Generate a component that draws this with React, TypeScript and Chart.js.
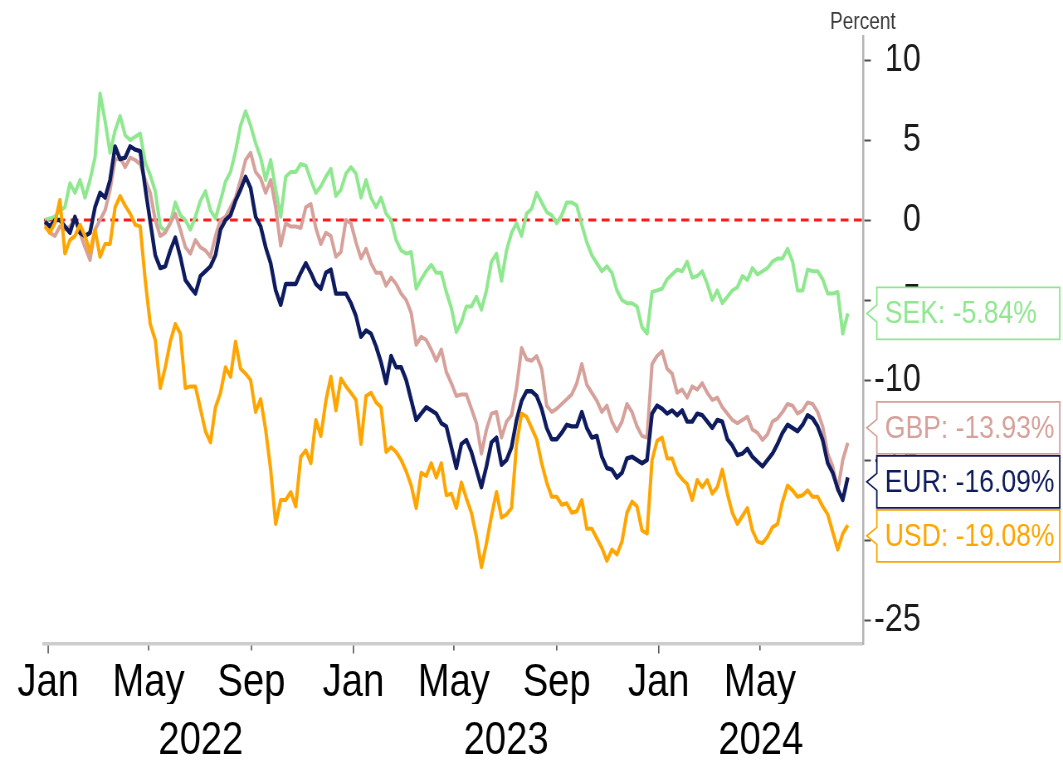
import React, { useEffect, useRef } from 'react';
import { Chart, registerables } from 'chart.js';

Chart.register(...registerables);

// ---- data (percent change, sampled every SAMPLE_STEP_DAYS from SAMPLE_START) ----
const SAMPLE_START = '2021-12-28';
const SAMPLE_STEP_DAYS = 6;
const AXIS_START = '2021-12-27';
const AXIS_END = '2024-09-01';

const TICK_DATES = ['2022-01-01', '2022-05-01', '2022-09-01', '2023-01-01', '2023-05-01', '2023-09-01', '2024-01-01', '2024-05-01'];
const TICK_LABELS = ['Jan', 'May', 'Sep', 'Jan', 'May', 'Sep', 'Jan', 'May'];
const YEARS = [2022, 2023, 2024];
const Y_TICKS = [-25, -20, -15, -10, -5, 0, 5, 10];
const Y_MIN = -26.5;
const Y_MAX = 11.5;
const Y_TITLE = 'Percent';

const SERIES_NAMES = ['SEK', 'GBP', 'EUR', 'USD'];
const SERIES_COLORS = ['#8fe88f', '#d6a19b', '#0e1b5e', '#ffa500'];

const SEK = [
  0.0, 0.1, 0.2, 0.6, 0.8, 2.3, 1.7, 2.5, 1.4, 2.5,
  3.9, 7.9, 6.2, 4.2, 5.6, 6.5, 5.3, 5.0, 5.2, 5.4,
  3.6, 2.8, 1.8, -0.4, -0.7, -0.2, 1.1, 0.3, 0.0, -0.6,
  0.2, 1.2, 1.8, 0.6, 0.1, 1.2, 2.4, 3.0, 4.3, 5.9,
  6.8, 5.9, 4.8, 3.9, 2.5, 3.75, 1.9, 0.2, 2.7, 3.0,
  3.0, 3.5, 3.4, 2.5, 1.7, 2.1, 2.7, 3.2, 1.5, 1.9,
  2.9, 3.3, 2.9, 1.4, 2.5, 1.4, 0.8, 1.4, 0.4, 0.0,
  -1.25, -1.9, -2.1, -2.0, -4.3, -3.7, -3.2, -2.8, -3.3, -3.3,
  -4.5, -5.5, -7.0, -6.4, -5.4, -5.4, -4.8, -5.6, -4.4, -2.6,
  -2.1, -3.8, -1.9, -0.8, -0.2, -1.0, 0.4, 0.7, 1.7, 1.1,
  0.5, 0.3, -0.2, 0.3, 1.1, 1.1, 0.9, -0.3, -1.4, -2.2,
  -2.7, -3.2, -2.9, -3.3, -4.4, -5.0, -5.2, -5.2, -5.4, -6.7,
  -7.1, -4.5, -4.4, -4.3, -3.7, -3.4, -3.1, -3.2, -2.6, -3.6,
  -3.5, -3.2, -4.0, -5.0, -4.4, -5.2, -4.8, -4.4, -4.2, -3.5,
  -3.75, -3.0, -3.4, -3.2, -3.0, -2.6, -2.4, -2.4, -1.8, -2.6,
  -4.4, -4.4, -3.1, -3.2, -3.2, -3.7, -4.6, -4.6, -4.5, -7.1,
  -5.84,
];

const GBP = [
  -0.2, -0.8, -1.0, -0.4, -0.6, -0.4, 0.0, -0.8, -1.7, -2.5,
  -0.6, 0.0, 0.6, 1.9, 3.75, 3.9, 3.3, 3.9, 3.75, 3.5,
  2.5, 1.7, 0.0, -1.0, -0.8, -0.2, 0.4, -0.6, -1.7, -2.1,
  -1.25, -1.7, -1.9, -2.3, -1.0, 0.0, 0.2, 0.8, 1.4, 2.5,
  3.75, 4.2, 3.0, 2.6, 1.7, 2.5, 0.8, -1.6, -0.2, -0.4,
  -0.4, -0.5, 0.8, 1.0, -0.5, -1.5, -0.8, -1.0, -2.3, -2.0,
  0.0, -0.2, -1.4, -2.4, -1.8, -2.7, -3.3, -3.3, -4.1, -3.6,
  -4.0, -4.6, -5.0, -5.8, -7.8, -7.3, -7.5, -8.1, -8.8, -8.1,
  -9.5, -10.2, -11.0, -10.9, -10.9, -11.8, -12.7, -14.6, -13.1, -12.1,
  -12.0, -13.6, -12.6, -12.2, -10.5, -8.0, -8.7, -8.8, -8.5, -9.3,
  -11.6, -12.0, -11.8, -11.5, -11.2, -10.9, -10.2, -9.0, -10.3, -10.8,
  -11.3, -12.0, -11.6, -12.6, -13.2, -12.6, -11.5, -12.0, -12.9, -13.5,
  -13.6, -9.0, -8.5, -8.2, -9.3, -9.6, -10.8, -10.6, -11.1, -10.4,
  -10.6, -10.2, -10.8, -11.25, -11.1, -11.7, -12.1, -12.5, -12.7, -12.5,
  -12.3, -13.1, -13.3, -13.75, -13.4, -12.6, -12.4, -12.0, -11.5, -11.6,
  -12.1, -11.9, -11.4, -11.5, -12.0, -12.9, -14.6, -15.4, -16.9, -15.0,
  -13.93,
];

const EUR = [
  -0.1, -0.4, 0.0, 0.0, -0.4, -0.8, 0.2, -0.8, -1.0, -0.8,
  0.8, 1.7, 1.4, 2.5, 4.6, 3.8, 3.9, 4.6, 4.4, 4.3,
  2.0, -0.1, -2.2, -3.0, -2.9, -1.9, -1.1, -2.3, -3.75, -4.2,
  -4.6, -3.5, -3.2, -2.9, -2.2, -0.6, 0.0, 0.3, 1.2, 1.9,
  2.7, 2.0, 0.2, -0.4, -1.7, -2.7, -4.4, -5.3, -4.0, -4.0,
  -4.0, -3.3, -2.7, -3.3, -4.0, -4.3, -3.3, -3.1, -4.6, -4.6,
  -4.6, -5.2, -6.0, -7.3, -6.9, -7.1, -7.9, -8.9, -10.2, -8.5,
  -9.2, -9.2, -10.0, -11.25, -12.5, -12.1, -11.7, -11.9, -12.1, -12.7,
  -12.9, -14.2, -15.5, -14.0, -13.75, -14.5, -15.6, -16.7, -15.4, -13.9,
  -13.6, -15.3, -15.0, -14.2, -12.5, -11.3, -10.7, -10.7, -11.0, -11.8,
  -13.0, -13.7, -13.7, -13.3, -12.8, -12.9, -12.9, -12.0, -13.0, -13.6,
  -13.5, -14.8, -15.5, -15.6, -16.1, -15.8, -14.9, -14.8, -15.0, -15.2,
  -15.0, -12.1, -11.6, -11.8, -12.1, -11.9, -12.2, -11.9, -12.6, -12.6,
  -12.1, -12.2, -12.6, -13.0, -12.5, -12.6, -13.7, -14.1, -14.7, -14.6,
  -14.3, -14.8, -15.1, -15.4, -15.0, -14.6, -14.0, -13.3, -12.8, -13.0,
  -13.2, -12.8, -12.2, -12.4, -12.9, -13.75, -15.2, -15.8, -16.8, -17.5,
  -16.09,
];

const USD = [
  -0.4, -0.8, -0.2, 1.25, -2.1, -1.25, -1.0, -0.3, -1.0, -2.0,
  -0.6, -2.3, -1.5, -1.5, 0.8, 1.5, 0.9, 0.4, -0.3, -0.4,
  -3.75, -6.5, -7.5, -10.5, -9.2, -7.6, -6.5, -7.1, -10.5, -10.4,
  -10.4, -11.8, -13.2, -13.9, -11.7, -10.8, -9.2, -9.8, -7.6, -9.3,
  -9.6, -10.0, -12.0, -11.2, -13.1, -15.6, -19.0, -17.5, -17.5, -17.0,
  -17.9, -14.8, -14.4, -15.2, -12.5, -13.5, -11.3, -9.8, -11.9, -9.9,
  -10.4, -10.8, -11.25, -14.0, -11.0, -10.8, -11.4, -11.7, -14.5, -14.2,
  -14.5, -15.0, -15.7, -16.6, -18.0, -15.8, -16.0, -15.2, -16.1, -15.2,
  -17.2, -17.1, -18.0, -16.4, -17.4, -18.3, -19.8, -21.7, -20.2, -18.5,
  -17.0, -18.6, -18.4, -18.0, -14.0, -12.1, -12.3, -13.0, -13.7, -15.2,
  -16.4, -17.3, -17.3, -17.8, -17.7, -18.3, -18.2, -17.5, -19.3, -19.3,
  -19.9, -20.5, -21.3, -20.6, -20.9, -20.1, -18.3, -17.6, -17.9, -19.4,
  -19.6, -15.0, -13.8, -13.6, -14.9, -14.9, -15.8, -16.2, -16.5, -17.5,
  -16.25, -16.7, -16.25, -17.1, -16.7, -15.6, -17.1, -18.3, -19.0, -18.5,
  -18.0, -19.4, -20.1, -20.2, -19.8, -19.2, -19.0, -17.6, -16.6, -16.9,
  -17.3, -17.2, -16.9, -17.3, -17.3, -17.9, -18.4, -19.5, -20.6, -19.6,
  -19.08,
];

const SERIES_VALUES = [SEK, GBP, EUR, USD];

// ---- helpers ----
const EPOCH = Date.UTC(2022, 0, 1);
function dayOf(iso: string): number {
  const [y, m, d] = iso.split('-').map(Number);
  return (Date.UTC(y, m - 1, d) - EPOCH) / 86400000;
}

const X_MIN = dayOf(AXIS_START);
const X_MAX = dayOf(AXIS_END);
const TICK_DAYS = TICK_DATES.map(dayOf);
const YEAR_CENTERS = YEARS.map((y) => {
  const a = Math.max(dayOf(`${y}-01-01`), X_MIN);
  const b = Math.min(dayOf(`${y + 1}-01-01`), X_MAX);
  return (a + b) / 2;
});

// The reference picture is horizontally compressed; draw on a wider canvas
// and display it at the page width.
const VIEW_W = 1063;
const VIEW_H = 761;
const SQ = 0.83;
const CANVAS_W = Math.round(VIEW_W / SQ);
const hx = (screenPx: number) => screenPx / SQ;

const FONT = '"Liberation Sans", Arial, Helvetica, sans-serif';

const decorPlugin = {
  id: 'decor',
  beforeDatasetsDraw(chart: any) {
    const { ctx, chartArea, scales } = chart;
    const y0 = scales.y.getPixelForValue(0);
    ctx.save();
    ctx.strokeStyle = '#ff1a1a';
    ctx.lineWidth = 2.8;
    ctx.setLineDash([9.5, 6.5]);
    ctx.beginPath();
    ctx.moveTo(chartArea.left, y0);
    ctx.lineTo(chartArea.right, y0);
    ctx.stroke();
    ctx.restore();
  },
  afterDraw(chart: any) {
    const { ctx, chartArea, scales } = chart;
    const xs = scales.x;
    const ys = scales.y;
    ctx.save();
    // x tick marks (Jan longer)
    ctx.strokeStyle = '#555';
    ctx.lineWidth = 1.6;
    TICK_DAYS.forEach((d, i) => {
      const x = xs.getPixelForValue(d);
      const len = TICK_LABELS[i] === 'Jan' ? 8 : 5;
      ctx.beginPath();
      ctx.moveTo(x, chartArea.bottom + 1.5);
      ctx.lineTo(x, chartArea.bottom + 1.5 + len);
      ctx.stroke();
    });

    // axis title
    ctx.fillStyle = '#3a3a3a';
    ctx.font = `23px ${FONT}`;
    ctx.textAlign = 'center';
    ctx.textBaseline = 'middle';
    ctx.fillText(Y_TITLE, chartArea.right, 23);

    // end-value callout boxes
    const SP = 54;
    const BOX_H = 52;
    const NOTCH = 8.5;
    const items = SERIES_NAMES.map((name, k) => {
      const vals = SERIES_VALUES[k];
      const last = vals[vals.length - 1];
      return { k, name, ideal: ys.getPixelForValue(last), y: 0, label: `${name}: ${last.toFixed(2)}%` };
    }).sort((a, b) => a.ideal - b.ideal);
    let groups = items.map((it) => ({ items: [it] }));
    const center = (g: any) => g.items.reduce((s: number, it: any) => s + it.ideal, 0) / g.items.length;
    let merged = true;
    while (merged) {
      merged = false;
      for (let g = 0; g < groups.length - 1; g++) {
        const a = groups[g];
        const b = groups[g + 1];
        const aBottom = center(a) + ((a.items.length - 1) * SP) / 2;
        const bTop = center(b) - ((b.items.length - 1) * SP) / 2;
        if (bTop - aBottom < SP) {
          groups.splice(g, 2, { items: [...a.items, ...b.items] });
          merged = true;
          break;
        }
      }
    }
    groups.forEach((g) => {
      const c = center(g);
      g.items.forEach((it, j) => {
        it.y = c + (j - (g.items.length - 1) / 2) * SP;
      });
    });

    const tipX = hx(867);
    const bl = hx(877);
    const br = hx(1060);
    const textX = hx(885);
    items.forEach((it) => {
      const color = SERIES_COLORS[it.k];
      const top = it.y - BOX_H / 2;
      const bottom = it.y + BOX_H / 2;
      ctx.beginPath();
      ctx.moveTo(bl, top);
      ctx.lineTo(br, top);
      ctx.lineTo(br, bottom);
      ctx.lineTo(bl, bottom);
      ctx.lineTo(bl, it.y + NOTCH);
      ctx.lineTo(tipX, it.y);
      ctx.lineTo(bl, it.y - NOTCH);
      ctx.closePath();
      ctx.fillStyle = '#ffffff';
      ctx.fill();
      ctx.strokeStyle = color;
      ctx.lineWidth = 1.8;
      ctx.stroke();
      ctx.fillStyle = color;
      ctx.font = `32px ${FONT}`;
      ctx.textAlign = 'left';
      ctx.textBaseline = 'middle';
      ctx.fillText(it.label, textX, it.y + 1);
    });
    ctx.restore();
  },
};

export default function App() {
  const canvasRef = useRef<HTMLCanvasElement | null>(null);

  useEffect(() => {
    const canvas = canvasRef.current;
    if (!canvas) return;
    const start = dayOf(SAMPLE_START);
    const xOf = (i: number) => start + i * SAMPLE_STEP_DAYS;
    const drawOrder = [3, 2, 1, 0];

    const datasets = SERIES_NAMES.map((name, k) => ({
      label: name,
      data: SERIES_VALUES[k].map((v, i) => ({ x: xOf(i), y: v })),
      borderColor: SERIES_COLORS[k],
      backgroundColor: SERIES_COLORS[k],
      borderWidth: name === 'EUR' ? 4.4 : 4,
      pointRadius: 0,
      tension: 0,
      fill: false,
      borderJoinStyle: 'round' as const,
      order: drawOrder[k],
    }));

    const axisRight = hx(921);

    const chart = new Chart(canvas, {
      type: 'line',
      data: { datasets },
      plugins: [decorPlugin],
      options: {
        responsive: false,
        maintainAspectRatio: false,
        animation: false,
        devicePixelRatio: 1,
        events: [],
        layout: { padding: { left: hx(44), top: 36, right: CANVAS_W - axisRight, bottom: 0 } },
        plugins: {
          legend: { display: false },
          tooltip: { enabled: false },
          title: { display: false },
        },
        scales: {
          x: {
            type: 'linear',
            position: 'bottom',
            min: X_MIN,
            max: X_MAX,
            weight: 0,
            afterBuildTicks: (scale: any) => {
              scale.ticks = TICK_DAYS.map((v) => ({ value: v }));
            },
            afterFit: (scale: any) => {
              scale.height = 60;
            },
            grid: { display: false, drawTicks: false, drawOnChartArea: false },
            border: { display: true, color: '#cdcdcd', width: 3.5 },
            ticks: {
              autoSkip: false,
              maxRotation: 0,
              minRotation: 0,
              padding: 12,
              color: '#000',
              font: { family: FONT, size: 46 },
              callback: (_v: any, i: number) => TICK_LABELS[i],
            },
          },
          x2: {
            type: 'linear',
            position: 'bottom',
            min: X_MIN,
            max: X_MAX,
            weight: 1,
            afterBuildTicks: (scale: any) => {
              scale.ticks = YEAR_CENTERS.map((v) => ({ value: v }));
            },
            afterFit: (scale: any) => {
              scale.height = 57;
            },
            grid: { display: false, drawTicks: false, drawOnChartArea: false },
            border: { display: false },
            ticks: {
              autoSkip: false,
              maxRotation: 0,
              minRotation: 0,
              padding: 10,
              color: '#000',
              font: { family: FONT, size: 46 },
              callback: (_v: any, i: number) => String(YEARS[i]),
            },
          },
          y: {
            type: 'linear',
            position: 'right',
            min: Y_MIN,
            max: Y_MAX,
            afterBuildTicks: (scale: any) => {
              scale.ticks = Y_TICKS.map((v) => ({ value: v }));
            },
            afterFit: (scale: any) => {
              scale.width = axisRight - hx(863);
            },
            grid: {
              display: true,
              drawOnChartArea: false,
              drawTicks: true,
              tickLength: hx(8),
              tickWidth: 2,
              tickColor: '#4d4d4d',
            },
            border: { display: true, color: '#b5b5b5', width: 2.5 },
            ticks: {
              crossAlign: 'far',
              padding: 4,
              color: '#1a1a1a',
              font: { family: FONT, size: 39 },
              callback: (v: any) => String(v),
            },
          },
        },
      } as any,
    });

    return () => {
      chart.destroy();
    };
  }, []);

  return (
    <div
      style={{
        position: 'absolute',
        left: 0,
        top: 0,
        width: VIEW_W,
        height: VIEW_H,
        overflow: 'hidden',
        background: '#fff',
      }}
    >
      <canvas
        ref={canvasRef}
        width={CANVAS_W}
        height={VIEW_H}
        style={{ width: `${VIEW_W}px`, height: `${VIEW_H}px`, display: 'block' }}
      />
    </div>
  );
}
